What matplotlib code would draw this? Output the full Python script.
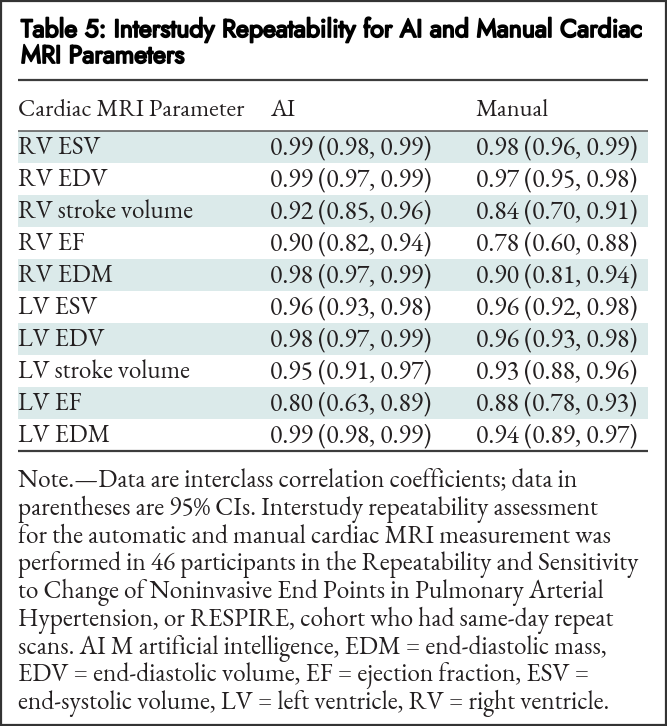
import matplotlib.pyplot as plt
from matplotlib.patches import Rectangle
import matplotlib.patheffects as pe

title_lines = ["Table 5: Interstudy Repeatability for AI and Manual Cardiac",
               "MRI Parameters"]
headers = ["Cardiac MRI Parameter", "AI", "Manual"]

params = ["RV ESV", "RV EDV", "RV stroke volume", "RV EF", "RV EDM",
          "LV ESV", "LV EDV", "LV stroke volume", "LV EF", "LV EDM"]
ai_icc = [0.99, 0.99, 0.92, 0.90, 0.98, 0.96, 0.98, 0.95, 0.80, 0.99]
ai_lo = [0.98, 0.97, 0.85, 0.82, 0.97, 0.93, 0.97, 0.91, 0.63, 0.98]
ai_hi = [0.99, 0.99, 0.96, 0.94, 0.99, 0.98, 0.99, 0.97, 0.89, 0.99]
man_icc = [0.98, 0.97, 0.84, 0.78, 0.90, 0.96, 0.96, 0.93, 0.88, 0.94]
man_lo = [0.96, 0.95, 0.70, 0.60, 0.81, 0.92, 0.93, 0.88, 0.78, 0.89]
man_hi = [0.99, 0.98, 0.91, 0.88, 0.94, 0.98, 0.98, 0.96, 0.93, 0.97]

note_lines = [
    "Note.\u2014Data are interclass correlation coefficients; data in",
    "parentheses are 95% CIs. Interstudy repeatability assessment",
    "for the automatic and manual cardiac MRI measurement was",
    "performed in 46 participants in the Repeatability and Sensitivity",
    "to Change of Noninvasive End Points in Pulmonary Arterial",
    "Hypertension, or RESPIRE, cohort who had same-day repeat",
    "scans. AI M artificial intelligence, EDM = end-diastolic mass,",
    "EDV = end-diastolic volume, EF = ejection fraction, ESV =",
    "end-systolic volume, LV = left ventricle, RV = right ventricle.",
]

W, H = 667, 726
fig = plt.figure(figsize=(W / 100, H / 100), dpi=100)
ax = fig.add_axes([0, 0, 1, 1])
ax.set_xlim(0, W)
ax.set_ylim(H, 0)
ax.axis("off")
r = fig.canvas.get_renderer()

serif = ["EB Garamond", "Liberation Serif", "DejaVu Serif"]
sans = ["Jost", "Lato", "DejaVu Sans"]
txt_col = "#231f20"
shade = "#dbeaea"
heavy = [pe.withStroke(linewidth=1.3, foreground="black")]


def fit(s, width, family=serif):
    # font size at which the string spans the given pixel width
    t = ax.text(0, -50, s, family=family, fontsize=16)
    w = t.get_window_extent(r).width
    t.remove()
    return 16 * width / w


# outer frame
ax.add_patch(Rectangle((1, 1), W - 2.5, H - 2.5, fill=False, ec="#333333", lw=1.6))

left, right = 18, 648
col_x = [18, 270, 476]

# title (Jost only ships regular here, so thicken it with a stroke)
tsize = fit(title_lines[0], 619, sans)
for k, line in enumerate(title_lines):
    ax.text(21, 37 + k * 26, line, family=sans, fontsize=tsize, color="black",
            va="baseline", path_effects=heavy)

ax.plot([left, right], [80, 80], color="#3c3c3c", lw=1.6, solid_capstyle="butt")

num_size = fit("0.99 (0.98, 0.99)", 163)
lab_size = fit("RV stroke volume", 175)
head_size = fit(headers[0], 226)

for x, h in zip(col_x, headers):
    ax.text(x, 116, h, family=serif, fontsize=head_size, color=txt_col, va="baseline")

top = 131
row_h = 32
for i, p in enumerate(params):
    y0 = top + i * row_h
    if i % 2 == 0:
        ax.add_patch(Rectangle((left, y0), right - left, row_h, color=shade, lw=0))
    base = y0 + 23
    ax.text(col_x[0], base, p, family=serif, fontsize=lab_size, color=txt_col, va="baseline")
    ax.text(col_x[1], base, f"{ai_icc[i]:.2f} ({ai_lo[i]:.2f}, {ai_hi[i]:.2f})",
            family=serif, fontsize=num_size, color=txt_col, va="baseline")
    ax.text(col_x[2], base, f"{man_icc[i]:.2f} ({man_lo[i]:.2f}, {man_hi[i]:.2f})",
            family=serif, fontsize=num_size, color=txt_col, va="baseline")

ax.plot([left, right], [top, top], color="#555555", lw=1.1, solid_capstyle="butt")
bottom = top + len(params) * row_h
ax.plot([left, right], [bottom, bottom], color="#3c3c3c", lw=1.6, solid_capstyle="butt")

# note
nsize = fit(note_lines[3], 619)
for k, line in enumerate(note_lines):
    ax.text(col_x[0], 487 + k * 27.75, line, family=serif, fontsize=nsize,
            color=txt_col, va="baseline")

fig.savefig("out.png", dpi=100)
